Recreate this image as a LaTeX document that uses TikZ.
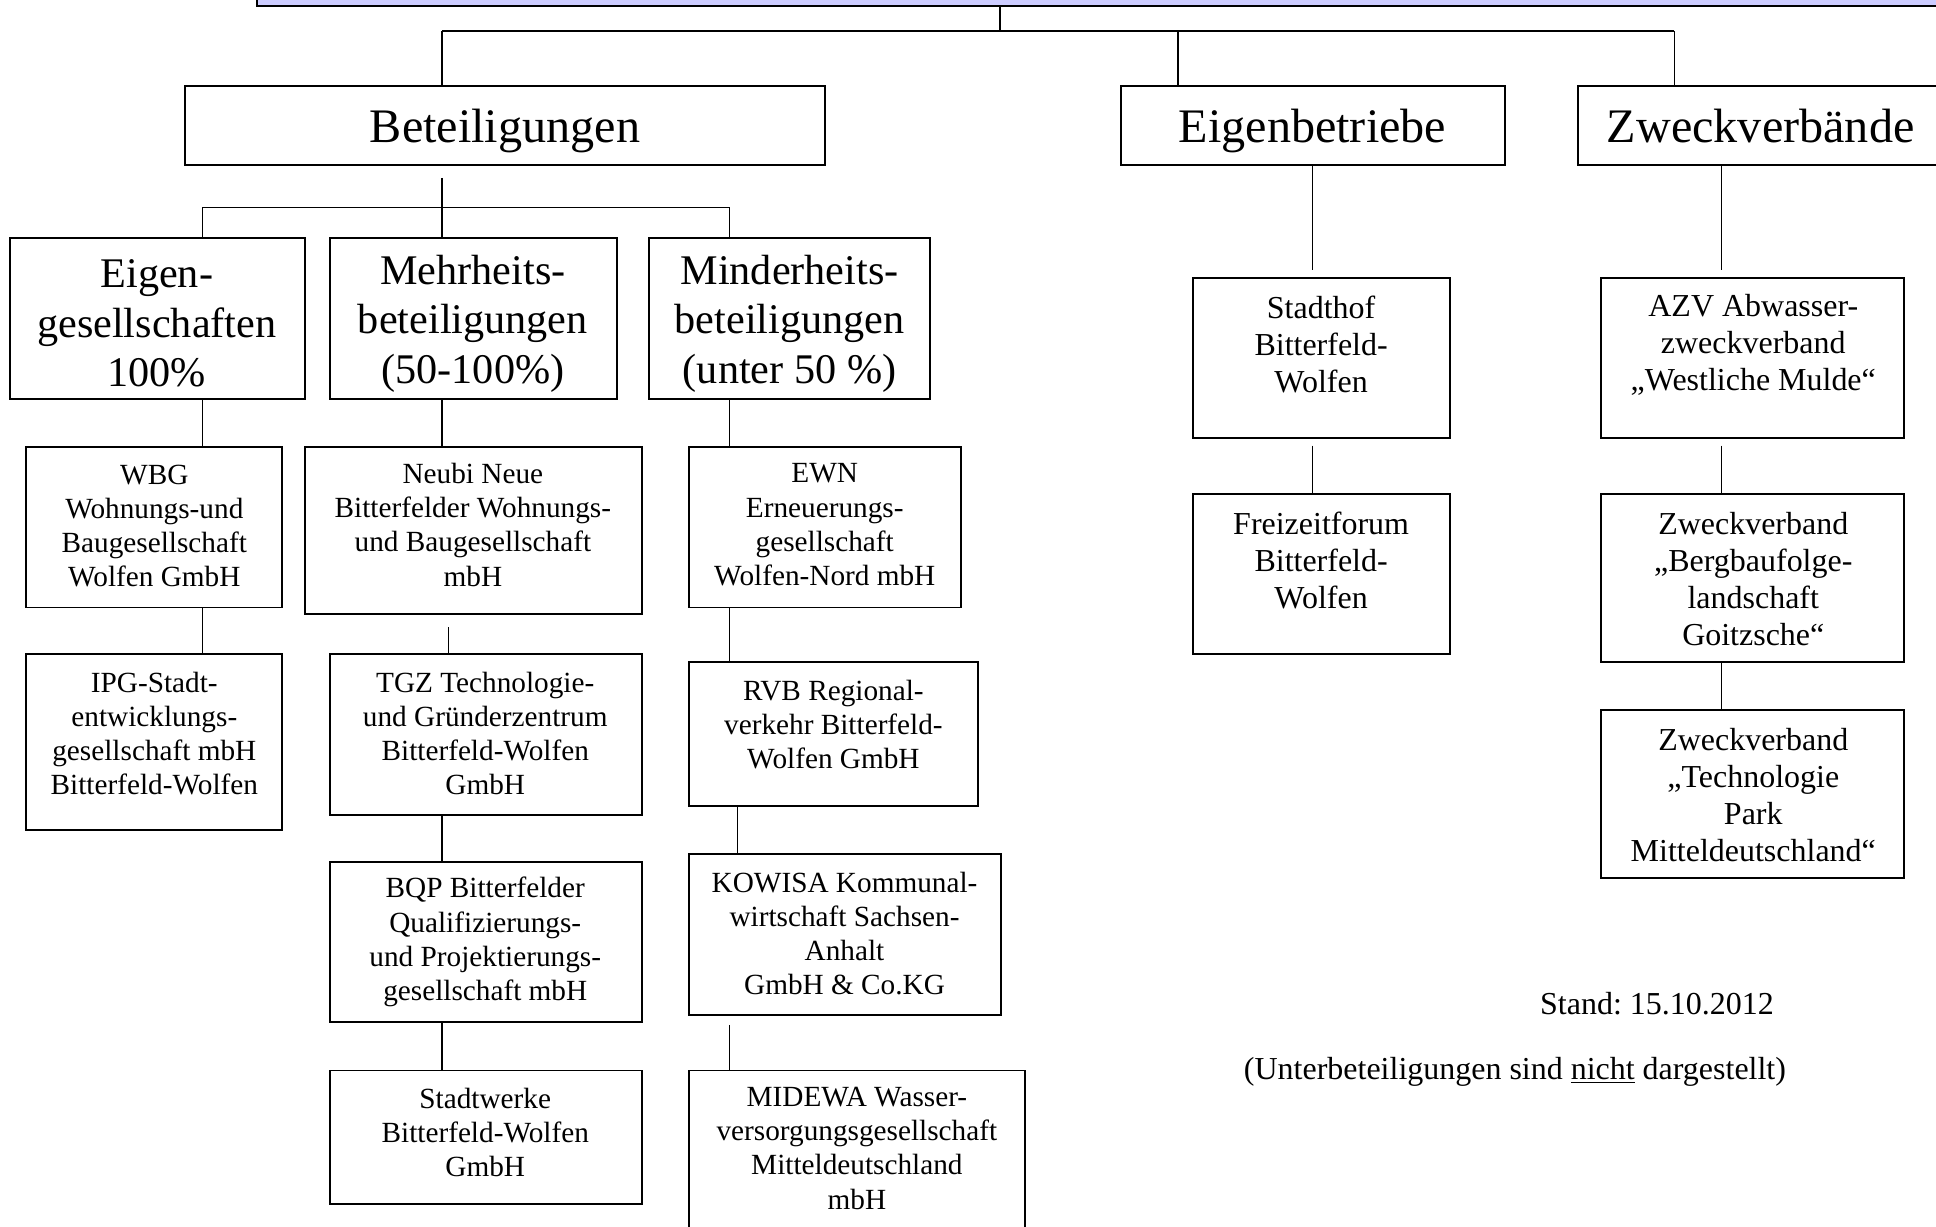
\documentclass[tikz,border=0pt]{standalone}
\usepackage{fontspec}
\setmainfont{Liberation Serif}
\frenchspacing
\definecolor{lav}{RGB}{204,204,255}
\newcommand\mybox[5]{\node[boxst, minimum width={(#4-#2)*0.5pt}, minimum height={(#5-#3)*0.5pt}] (#1) at ({(#2+#4)/2},{(#3+#5)/2}) {};}
\begin{document}
\begin{tikzpicture}[x=0.5pt,y=-0.5pt,
  boxst/.style={draw, line width=0.8pt, inner sep=0pt, outer sep=0pt},
  conn/.style={line width=0.5pt},
  busline/.style={line width=1pt},
  fa/.style={font=\fontsize{19.5}{22.5}\selectfont, align=center, inner sep=0pt},
  fb/.style={font=\fontsize{17.1}{20}\selectfont, align=center, inner sep=0pt},
  fc/.style={font=\fontsize{11.85}{13.85}\selectfont, align=center, inner sep=0pt},
  fd/.style={font=\fontsize{12.95}{15}\selectfont, align=center, inner sep=0pt}]
\useasboundingbox (0,0) rectangle (1568,993);
\clip (0,0) rectangle (1568,993);
\fill[white] (0,0) rectangle (1568,993);
% top box
\node[boxst, fill=lav, line width=1pt, minimum width={1400*0.5pt}, minimum height={45*0.5pt}] (ob) at (908,-17.5) {};
% level 1
\mybox{bet}{150}{70}{668}{134}
\mybox{eig}{908}{70}{1219}{134}
\mybox{zwv}{1278}{70}{1574}{134}
\node[fa, anchor=base] (bett) at (409,115) {Beteiligungen};
\node[fa, anchor=base] (eigt) at (1063,115) {Eigenbetriebe};
\node[fa, anchor=base] (zwvt) at (1426,115) {Zweckverbände};
% level 2
\mybox{eg}{8}{193}{247}{323}
\mybox{meh}{267}{193}{500}{323}
\mybox{min}{526}{193}{753}{323}
\node[fb] (egt) at (127,262) {Eigen-\\gesellschaften\\100\%};
\node[fb] (meht) at (383,262) {Mehrheits-\\beteiligungen\\(50-100\%)};
\node[fb] (mint) at (639.5,262) {Minderheits-\\beteiligungen\\(unter 50 \%)};
% left column
\mybox{wbg}{21}{362}{228}{492}
\node[fc] (wbgt) at (125,426) {WBG\\Wohnungs-und\\Baugesellschaft\\Wolfen GmbH};
\mybox{ipg}{21}{530}{228}{672}
\node[fc] (ipgt) at (125,594) {IPG-Stadt-\\entwicklungs-\\gesellschaft mbH\\Bitterfeld-Wolfen};
% middle column
\mybox{neu}{247}{362}{520}{497}
\node[fc] (neut) at (383,425) {Neubi Neue\\Bitterfelder Wohnungs-\\und Baugesellschaft\\mbH};
\mybox{tgz}{267}{530}{520}{660}
\node[fc] (tgzt) at (393,594) {TGZ Technologie-\\und Gründerzentrum\\Bitterfeld-Wolfen\\GmbH};
\mybox{bqp}{267}{698}{520}{828}
\node[fc] (bqpt) at (393,763) {BQP Bitterfelder\\Qualifizierungs-\\und Projektierungs-\\gesellschaft mbH};
\mybox{stw}{267}{867}{520}{975}
\node[fc] (stwt) at (393,917) {Stadtwerke\\Bitterfeld-Wolfen\\GmbH};
% right-middle column
\mybox{ewn}{558}{362}{778}{492}
\node[fc] (ewnt) at (668,425) {EWN\\Erneuerungs-\\gesellschaft\\Wolfen-Nord mbH};
\mybox{rvb}{558}{536}{792}{653}
\node[fc] (rvbt) at (675,587) {RVB Regional-\\verkehr Bitterfeld-\\Wolfen GmbH};
\mybox{kow}{558}{692}{811}{822}
\node[fc] (kowt) at (684,756) {KOWISA Kommunal-\\wirtschaft Sachsen-\\Anhalt\\GmbH \& Co.KG};
\mybox{mid}{558}{867}{830}{1010}
\node[fc] (midt) at (694,930) {MIDEWA Wasser-\\versorgungsgesellschaft\\Mitteldeutschland\\mbH};
% Eigenbetriebe column
\mybox{sth}{966}{225}{1174}{355}
\node[fd] (stht) at (1070,279) {Stadthof\\Bitterfeld-\\Wolfen};
\mybox{frz}{966}{400}{1174}{530}
\node[fd] (frzt) at (1070,454) {Freizeitforum\\Bitterfeld-\\Wolfen};
% Zweckverbaende column
\mybox{azv}{1297}{225}{1542}{355}
\node[fd] (azvt) at (1420,279) {AZV Abwasser-\\zweckverband\\„Westliche Mulde“};
\mybox{brg}{1297}{400}{1542}{536}
\node[fd] (brgt) at (1420,469) {Zweckverband\\„Bergbaufolge-\\landschaft\\Goitzsche“};
\mybox{tec}{1297}{575}{1542}{711}
\node[fd] (tect) at (1420,644) {Zweckverband\\„Technologie\\Park\\Mitteldeutschland“};
% notes
\node[fd, anchor=base] (stand) at (1342,822) {Stand: 15.10.2012};
\node[fd, anchor=base] (note) at (1227,874) {(Unterbeteiligungen sind \underline{nicht} dargestellt)};
% coordinates for connector columns
\coordinate (j0) at (810,25);
\coordinate (b1) at (358,25);
\coordinate (b2) at (954,25);
\coordinate (b3) at (1356,25);
\coordinate (c1) at (164,168);
\coordinate (c2) at (358,168);
\coordinate (c3) at (591,168);
\coordinate (x363) at (363,0);
\coordinate (x597) at (597,0);
\coordinate (x1063) at (1063,0);
\coordinate (x1394) at (1394,0);
% connectors top
\draw[conn] (ob.south -| j0) -- (j0);
\draw[busline] (b1) -- (b3);
\draw[conn] (b1) -- (bet.north -| b1);
\draw[conn] (b2) -- (eig.north -| b2);
\draw[conn] (b3) -- (zwv.north -| b3);
% Beteiligungen tree
\draw[conn, shorten <=5pt] (bet.south -| c2) -- (c2);
\draw[conn] (c1) -- (c3);
\draw[conn] (c1) -- (eg.north -| c1);
\draw[conn] (c2) -- (meh.north -| c2);
\draw[conn] (c3) -- (min.north -| c3);
\draw[conn] (eg.south -| c1) -- (wbg.north -| c1);
\draw[conn] (meh.south -| c2) -- (neu.north -| c2);
\draw[conn] (min.south -| c3) -- (ewn.north -| c3);
\draw[conn] (wbg.south -| c1) -- (ipg.north -| c1);
\draw[conn, shorten <=5.5pt] (neu.south -| x363) -- (tgz.north -| x363);
\draw[conn] (tgz.south -| c2) -- (bqp.north -| c2);
\draw[conn] (bqp.south -| c2) -- (stw.north -| c2);
\draw[conn] (ewn.south -| c3) -- (rvb.north -| c3);
\draw[conn] (rvb.south -| x597) -- (kow.north -| x597);
\draw[conn, shorten <=4pt] (kow.south -| c3) -- (mid.north -| c3);
% right trees
\draw[conn, shorten >=3pt] (eig.south -| x1063) -- (sth.north -| x1063);
\draw[conn, shorten <=3pt] (sth.south -| x1063) -- (frz.north -| x1063);
\draw[conn, shorten >=3pt] (zwv.south -| x1394) -- (azv.north -| x1394);
\draw[conn, shorten <=3pt] (azv.south -| x1394) -- (brg.north -| x1394);
\draw[conn] (brg.south -| x1394) -- (tec.north -| x1394);
\end{tikzpicture}
\end{document}
